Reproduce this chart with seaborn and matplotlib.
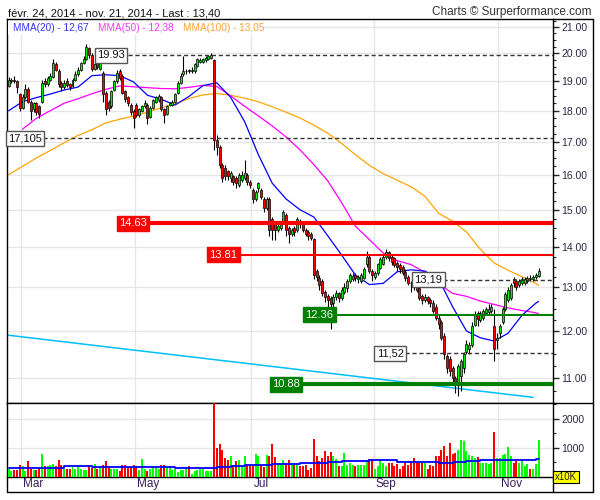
import numpy as np
import pandas as pd
import matplotlib
matplotlib.use("Agg")
import matplotlib.pyplot as plt
import matplotlib.transforms as mtransforms
from matplotlib.lines import Line2D
from matplotlib.patches import Rectangle
from matplotlib.ticker import NullFormatter
import seaborn as sns

# ---------------- data ----------------
start_date = "2014-02-24"
end_date = "2014-11-21"
holidays = ["2014-04-18", "2014-04-21", "2014-05-01"]
month_nums = [3, 5, 7, 9, 11]
month_labels = ["Mar", "May", "Jul", "Sep", "Nov"]

opens = [
    18.85, 19.0, 19.05, 19.0, 18.55, 18.1, 18.45, 18.75, 18.3, 18.05,
    18.25, 18.15, 18.3, 19.0, 18.9, 19.05, 19.15, 19.6, 19.35, 18.95,
    18.8, 19.0, 18.9, 18.85, 19.05, 19.25, 19.4, 19.65, 19.8, 20.2,
    19.95, 19.45, 19.7, 19.45, 19.3, 18.6, 18.3, 18.15, 18.7, 19.0,
    19.35, 19.2, 18.65, 18.45, 18.2, 18.0, 18.2, 17.85, 18.0, 18.15,
    18.2, 17.8, 18.1, 18.3, 18.35, 18.45, 18.05, 17.9, 18.2, 18.2,
    18.3, 18.6, 18.95, 19.25, 19.35, 19.4, 19.35, 19.35, 19.55, 19.7,
    19.7, 19.75, 19.8, 19.85, 19.75, 17.05, 16.85, 16.3, 16.2, 16.1,
    15.9, 15.95, 15.9, 15.7, 15.85, 15.9, 16.0, 15.8, 15.55, 15.3,
    15.6, 15.55, 15.3, 15.05, 15.3, 14.75, 14.6, 14.45, 14.5, 14.65,
    14.85, 14.5, 14.35, 14.5, 14.45, 14.7, 14.6, 14.45, 14.4, 14.35,
    14.22, 13.4, 13.22, 13.15, 12.9, 12.8, 12.75, 12.63, 12.78, 12.86,
    12.74, 12.9, 12.98, 13.15, 13.2, 13.3, 13.2, 13.15, 13.22, 13.58,
    13.75, 13.4, 13.25, 13.35, 13.48, 13.58, 13.75, 13.87, 13.75, 13.72,
    13.6, 13.55, 13.5, 13.38, 13.25, 13.12, 13.12, 13.1, 12.98, 12.8,
    12.7, 12.78, 12.7, 12.63, 12.55, 12.3, 12.2, 11.9, 11.45, 11.4,
    11.2, 11.0, 10.92, 11.05, 11.2, 11.55, 11.6, 11.7, 12.14, 12.4,
    12.25, 12.3, 12.4, 12.42, 12.45, 12.1, 11.8, 11.95, 12.2, 12.5,
    12.7, 12.75, 13.2, 13.15, 13.05, 13.1, 13.1, 13.15, 13.22, 13.2,
    13.25, 13.28]

closes = [
    19.05, 19.05, 19.0, 18.8, 18.1, 18.45, 18.75, 18.3, 18.0, 18.25,
    17.95, 17.9, 18.95, 18.9, 19.1, 19.2, 19.65, 19.4, 18.9, 18.8,
    18.95, 18.88, 18.8, 19.05, 19.25, 19.4, 19.65, 19.8, 20.25, 19.95,
    19.45, 19.6, 19.5, 19.65, 18.55, 18.05, 18.1, 18.65, 19.0, 19.3,
    19.1, 18.6, 18.4, 18.25, 17.95, 17.75, 17.85, 18.05, 18.15, 18.25,
    17.75, 18.1, 18.35, 18.45, 18.5, 18.05, 17.85, 18.15, 18.25, 18.3,
    18.55, 18.95, 19.2, 19.35, 19.35, 19.35, 19.4, 19.6, 19.8, 19.75,
    19.8, 19.85, 19.9, 19.95, 17.05, 16.85, 16.3, 15.9, 15.95, 15.95,
    16.05, 15.8, 15.75, 16.0, 16.0, 16.05, 15.8, 15.7, 15.3, 15.5,
    15.75, 15.35, 15.05, 15.3, 14.45, 14.45, 14.45, 14.55, 14.6, 14.95,
    14.45, 14.35, 14.45, 14.4, 14.75, 14.6, 14.45, 14.35, 14.3, 14.25,
    13.3, 13.25, 13.05, 12.87, 12.78, 12.7, 12.62, 12.78, 12.86, 12.74,
    12.95, 13.0, 13.15, 13.3, 13.28, 13.22, 13.25, 13.3, 13.46, 13.75,
    13.4, 13.3, 13.35, 13.58, 13.7, 13.75, 13.87, 13.72, 13.62, 13.55,
    13.5, 13.45, 13.35, 13.22, 13.12, 13.1, 13.05, 12.95, 12.75, 12.7,
    12.78, 12.68, 12.63, 12.45, 12.3, 12.15, 11.85, 11.5, 11.2, 11.15,
    11.0, 10.9, 11.25, 11.35, 11.5, 11.72, 11.7, 12.12, 12.38, 12.27,
    12.4, 12.45, 12.5, 12.5, 12.55, 11.6, 11.85, 12.1, 12.5, 12.85,
    12.95, 13.05, 13.1, 13.0, 13.15, 13.2, 13.2, 13.22, 13.2, 13.25,
    13.3, 13.40]

highs = [
    19.15, 19.1, 19.2, 19.05, 18.6, 18.55, 18.9, 18.8, 18.35, 18.3,
    18.3, 18.2, 19.05, 19.1, 19.2, 19.3, 19.8, 19.7, 19.45, 19.0,
    19.05, 19.1, 18.95, 19.1, 19.35, 19.5, 19.7, 19.9, 20.35, 20.25,
    20.0, 19.7, 19.75, 19.7, 19.35, 18.65, 18.35, 18.7, 19.05, 19.4,
    19.45, 19.25, 18.7, 18.5, 18.25, 18.05, 18.25, 18.1, 18.2, 18.35,
    18.25, 18.15, 18.4, 18.5, 18.55, 18.5, 18.1, 18.2, 18.3, 18.35,
    18.6, 19.0, 19.3, 19.9, 19.45, 19.45, 19.5, 19.65, 19.85, 19.85,
    19.85, 19.9, 19.95, 20.0, 19.8, 17.2, 16.9, 16.35, 16.3, 16.15,
    16.1, 16.0, 15.95, 16.05, 16.1, 16.45, 16.05, 15.85, 15.6, 15.55,
    15.8, 15.6, 15.35, 15.35, 15.35, 14.8, 14.65, 14.6, 14.65, 15.0,
    14.9, 14.55, 14.5, 14.55, 14.8, 14.75, 14.65, 14.5, 14.45, 14.4,
    14.25, 13.45, 13.3, 13.2, 12.95, 12.85, 12.8, 12.85, 12.95, 12.9,
    13.0, 13.1, 13.2, 13.35, 13.35, 13.35, 13.3, 13.35, 13.5, 13.9,
    13.8, 13.45, 13.4, 13.6, 13.75, 13.8, 13.95, 13.9, 13.8, 13.75,
    13.65, 13.6, 13.55, 13.45, 13.3, 13.15, 13.2, 13.15, 13.0, 12.85,
    12.85, 12.8, 12.75, 12.7, 12.6, 12.35, 12.25, 11.95, 11.5, 11.45,
    11.25, 11.05, 11.3, 11.4, 11.55, 11.8, 11.75, 12.2, 12.45, 12.45,
    12.45, 12.5, 12.55, 12.6, 12.6, 12.5, 11.95, 12.15, 12.55, 12.9,
    13.0, 13.1, 13.25, 13.2, 13.2, 13.25, 13.25, 13.28, 13.3, 13.3,
    13.35, 13.47]

lows = [
    18.8, 18.95, 18.95, 18.6, 18.0, 18.05, 18.4, 18.25, 17.7, 17.95,
    17.85, 17.75, 18.25, 18.8, 18.85, 19.0, 19.1, 19.35, 18.8, 18.65,
    18.75, 18.8, 18.7, 18.8, 19.0, 19.2, 19.35, 19.6, 19.75, 19.85,
    19.35, 19.4, 19.45, 19.4, 18.3, 17.85, 18.0, 18.1, 18.65, 18.95,
    19.05, 18.55, 18.3, 18.15, 17.85, 17.45, 17.8, 17.8, 17.95, 18.1,
    17.55, 17.75, 18.05, 18.25, 18.3, 18.0, 17.6, 17.85, 18.15, 18.15,
    18.25, 18.55, 18.9, 19.2, 19.25, 19.3, 19.3, 19.3, 19.5, 19.65,
    19.65, 19.7, 19.75, 19.8, 16.75, 16.6, 16.2, 15.8, 15.85, 15.85,
    15.8, 15.7, 15.6, 15.65, 15.8, 15.85, 15.7, 15.6, 15.2, 15.25,
    15.5, 15.3, 14.95, 15.0, 14.3, 14.2, 14.2, 14.4, 14.45, 14.6,
    14.3, 14.1, 14.3, 14.3, 14.4, 14.5, 14.4, 14.3, 14.2, 14.2,
    13.2, 13.15, 12.95, 12.8, 12.65, 12.55, 12.05, 12.5, 12.7, 12.65,
    12.7, 12.85, 12.9, 13.1, 13.15, 13.15, 13.1, 13.1, 13.2, 13.5,
    13.35, 13.15, 13.2, 13.3, 13.45, 13.55, 13.7, 13.65, 13.55, 13.5,
    13.4, 13.35, 13.3, 13.15, 13.05, 12.9, 12.95, 12.9, 12.7, 12.6,
    12.65, 12.6, 12.55, 12.4, 12.25, 12.05, 11.8, 11.4, 11.1, 11.05,
    10.9, 10.7, 10.65, 10.75, 11.1, 11.5, 11.5, 11.65, 12.1, 12.1,
    12.2, 12.25, 12.35, 12.35, 12.4, 11.35, 11.6, 11.85, 12.15, 12.45,
    12.65, 12.7, 13.0, 12.95, 13.0, 13.05, 13.05, 13.1, 13.15, 13.15,
    13.2, 13.25]

# volume, in units of 10K shares
volumes = [
    310, 218, 253, 253, 425, 368, 218, 540, 287, 253,
    253, 310, 793, 368, 390, 425, 450, 368, 598, 402,
    287, 287, 287, 333, 287, 333, 287, 253, 240, 425,
    310, 460, 287, 368, 402, 563, 390, 287, 287, 287,
    218, 425, 425, 356, 356, 425, 368, 253, 632, 287,
    218, 287, 356, 333, 287, 402, 402, 333, 368, 253,
    287, 172, 253, 253, 310, 390, 115, 195, 253, 287,
    287, 218, 195, 218, 2550, 1000, 1150, 940, 655, 575,
    713, 425, 540, 575, 425, 735, 425, 368, 368, 793,
    735, 402, 345, 770, 713, 1150, 678, 494, 483, 598,
    483, 586, 402, 425, 448,
    370, 370, 402, 253, 310, 1320, 713, 540, 655, 885,
    713, 860, 713, 632, 370, 370, 830, 402, 483, 425,
    390, 425, 402, 402, 598, 632, 632, 287, 368, 620,
    483, 368, 483, 483, 368, 460, 287, 368, 506, 402,
    483, 655, 483, 483, 483, 483, 287, 402, 368, 735,
    713, 940, 1080, 713, 1170, 793, 830, 940, 1290, 1230,
    885, 770, 713, 655, 678, 483, 483, 483, 460, 483,
    1540, 655, 655, 770, 805, 1020, 735, 483, 540, 483,
    540, 368, 448, 287, 287, 448, 1260]

# moving averages read every 5th session (0,5,...,190) and at the last session
ma20 = [18.0, 18.3, 18.44, 18.56, 18.7, 18.8, 19.2, 19.23, 19.2, 18.98,
        18.52, 18.38, 18.19, 18.48, 18.85, 18.95, 18.45, 17.65, 16.6, 15.75,
        15.3, 15.0, 14.8, 14.3, 13.8, 13.3, 13.07, 13.1, 13.38, 13.43,
        13.4, 13.2, 12.55, 12.0, 11.85, 11.78, 11.95, 12.35, 12.63, 12.67]
ma50 = [None, 17.4, 17.75, 18.0, 18.25, 18.4, 18.57, 18.72, 18.84, 18.81,
        18.78, 18.75, 18.74, 18.79, 18.86, 18.82, 18.5, 18.15, 17.83, 17.5,
        17.15, 16.75, 16.3, 15.82, 15.2, 14.55, 14.2, 13.85, 13.66, 13.56,
        13.37, 13.09, 12.86, 12.79, 12.68, 12.6, 12.52, 12.46, 12.41, 12.38]
ma100 = [16.0, 16.25, 16.5, 16.73, 16.97, 17.2, 17.38, 17.6, 17.72, 17.82,
         17.95, 18.1, 18.23, 18.41, 18.53, 18.58, 18.52, 18.42, 18.3, 18.13,
         17.95, 17.76, 17.53, 17.27, 16.95, 16.6, 16.28, 16.03, 15.84, 15.65,
         15.38, 14.9, 14.69, 14.4, 13.95, 13.6, 13.42, 13.26, 13.1, 13.05]
vol_ma = [310, 310, 310, 310, 370, 370, 333, 333, 333, 333,
          333, 333, 310, 310, 310, 356, 390, 414, 414, 448,
          448, 483, 490, 517, 552, 552, 575, 575, 517, 517,
          517, 483, 517, 552, 586, 586, 586, 586, 610, 610]

# straight support line (start session, end session) and its prices
trend_sessions = [-0.6, 189]
trend_prices = [11.91, 10.62]

level_vals = [19.93, 17.105, 14.63, 13.81, 13.19, 12.36, 11.52, 10.88]
level_texts = ["19.93", "17,105", "14.63", "13.81", "13,19", "12.36", "11,52", "10.88"]

price_ticks = [11, 12, 13, 14, 15, 16, 17, 18, 19, 20, 21]
vol_ticks = [1000, 2000]

title_text = "févr. 24, 2014 - nov. 21, 2014 - Last : 13,40"
credit_text = "Charts © Surperformance.com"
legend_items = [("MMA(20) - 12,67", "#3333ff"),
                ("MMA(50) - 12,38", "#ff33ff"),
                ("MMA(100) - 13,05", "#ffa22e")]

# ---------------- drawing ----------------
sns.set_style("white")
plt.rcParams["font.family"] = ["Liberation Sans", "DejaVu Sans"]

W, H = 600, 500
def fx(px): return px / W
def fy(py): return 1 - py / H

fig = plt.figure(figsize=(6, 5), dpi=100)
fig.patch.set_facecolor("white")
Lp, Rp, Tp, MBp, VBp, BBp, RRp = 7, 553, 19, 403, 477, 492, 593
ax = fig.add_axes([fx(Lp), fy(MBp), (Rp - Lp) / W, (MBp - Tp) / H])
axv = fig.add_axes([fx(Lp), fy(VBp), (Rp - Lp) / W, (VBp - MBp) / H], sharex=ax)

n = len(closes)
idx = np.arange(n)
dates = pd.bdate_range(start_date, end_date).drop(pd.to_datetime(holidays))
month_first = [int(np.where(dates.month == m)[0][0]) for m in month_nums]
grid_x = [m - 0.5 for m in month_first]

GREEN = "#00ee00"
RED = "#ff0000"
o = np.array(opens); c = np.array(closes); h = np.array(highs); l = np.array(lows)
up = c >= o
lo_b = np.minimum(o, c); hi_b = np.maximum(o, c)
cols = np.where(up, GREEN, RED)

ax.set_yscale("log")
ax.set_xlim(-0.61, 196.2)
ax.set_ylim(10.51, 21.31)

# moving averages
ma_x = list(range(0, n, 5)) + [n - 1]
sns.lineplot(x=ma_x, y=ma100, ax=ax, color="#ffa500", lw=0.9, estimator=None, sort=False, zorder=2)
m50x = [x for x, v in zip(ma_x, ma50) if v is not None]
m50y = [v for v in ma50 if v is not None]
sns.lineplot(x=m50x, y=m50y, ax=ax, color="#ff00ff", lw=0.9, estimator=None, sort=False, zorder=2)
sns.lineplot(x=ma_x, y=ma20, ax=ax, color="#0000ff", lw=0.9, estimator=None, sort=False, zorder=2)
sns.lineplot(x=trend_sessions, y=trend_prices, ax=ax, color="#00bfff", lw=1.1,
             estimator=None, sort=False, zorder=2)

# candles
ax.vlines(idx, l, h, color="black", lw=0.8, zorder=3)
ax.bar(idx, np.maximum(hi_b - lo_b, 0.015), bottom=lo_b, width=0.72, color=cols,
       edgecolor="black", linewidth=0.5, zorder=4)

# levels
xmax = 196.2
label_centers = [36.9, 5.9, 44.8, 77.3, 151.2, 111.9, 137.5, 100.0]
line_starts = [43.0, 12.4, 50.6, 83.0, 156.6, 116.9, 142.9, 105.4]
kinds = ["dash", "dash", "red3", "red", "dash", "green", "dash", "green3"]
for val, txt, cx, xs, kd in zip(level_vals, level_texts, label_centers, line_starts, kinds):
    if kd == "dash":
        ax.hlines(val, xs, xmax, colors="#333333", lw=1, linestyles=(0, (3, 2)), zorder=5)
        bb = dict(boxstyle="square,pad=0.22", fc="white", ec="#555555", lw=1)
        tc = "#111111"
    elif kd.startswith("red"):
        ax.hlines(val, xs, xmax, colors="#ff0000", lw=3 if kd == "red3" else 1.5, zorder=5)
        bb = dict(boxstyle="square,pad=0.22", fc="#ff0000", ec="#ff0000", lw=1)
        tc = "white"
    else:
        ax.hlines(val, xs, xmax, colors="#008000", lw=3 if kd == "green3" else 1.5, zorder=5)
        bb = dict(boxstyle="square,pad=0.22", fc="#007f00", ec="#007f00", lw=1)
        tc = "white"
    ax.text(cx, val, txt, ha="center", va="center", fontsize=8, color=tc, bbox=bb, zorder=6)

# axes styling
for a in (ax, axv):
    a.set_facecolor("white")
    for s in a.spines.values():
        s.set_visible(True)
        s.set_color("black")
        s.set_linewidth(1)
    a.set_axisbelow(True)
    a.set_xticks(grid_x)
    a.tick_params(axis="x", length=0, labelbottom=False)
    a.grid(True, which="major", color="#e6e6e6", lw=1)
    a.yaxis.tick_right()

ax.set_yticks(price_ticks)
ax.set_yticklabels([f"{t:.2f}" for t in price_ticks])
minor = [t + f for t in range(10, 22) for f in (0.25, 0.5, 0.75) if 10.51 < t + f < 21.31]
ax.set_yticks(minor, minor=True)
ax.yaxis.set_minor_formatter(NullFormatter())
ax.tick_params(axis="y", which="major", direction="out", length=4, width=1, pad=2,
               labelsize=7.5, labelcolor="#2a2a44", right=True, left=False)
ax.tick_params(axis="y", which="minor", direction="out", length=2.5, width=0.8, right=True, left=False)
ax.set_xlabel(""); ax.set_ylabel("")

# volume panel
vcols = np.where(up, "#00ff00", RED)
axv.bar(idx, volumes, width=0.72, color=vcols, linewidth=0, zorder=3)
sns.lineplot(x=ma_x, y=vol_ma, ax=axv, color="#0000ff", lw=1.3, drawstyle="steps-post",
             estimator=None, sort=False, zorder=4)
axv.set_ylim(0, 2550)
axv.set_yticks(vol_ticks)
axv.set_yticklabels([str(t) for t in vol_ticks])
axv.set_yticks([500, 1500, 2500], minor=True)
axv.yaxis.set_minor_formatter(NullFormatter())
axv.tick_params(axis="y", which="major", direction="out", length=4, width=1, pad=2,
                labelsize=7.5, labelcolor="#2a2a44", right=True, left=False)
axv.tick_params(axis="y", which="minor", direction="out", length=2.5, width=0.8, right=True, left=False)
axv.set_xlabel(""); axv.set_ylabel("")

trans = mtransforms.blended_transform_factory(axv.transData, fig.transFigure)
for g, lab in zip(grid_x, month_labels):
    axv.text(g + 0.8, fy(484), lab, transform=trans, ha="left", va="center",
             fontsize=8.5, color="#3b1f5c", clip_on=False)

# frame lines
def fline(x0, y0, x1, y1):
    fig.add_artist(Line2D([fx(x0), fx(x1)], [fy(y0), fy(y1)], color="black", lw=1,
                          transform=fig.transFigure))
fline(Lp, BBp, RRp, BBp)
fline(RRp, Tp, RRp, BBp)
fline(Rp, Tp, RRp, Tp)
fline(Rp, MBp, RRp, MBp)
fline(Lp, VBp, Lp, BBp)
fline(Rp, VBp, Rp, BBp)

# texts
fig.text(fx(8), fy(13), title_text, ha="left", va="center", fontsize=8, color="#111111")
fig.text(fx(592), fy(12), credit_text, ha="right", va="center", fontsize=8.5, color="#333333")
fig.add_artist(Rectangle((fx(8), fy(35)), fx(262) - fx(8), fy(21) - fy(35),
                         transform=fig.transFigure, facecolor="white", edgecolor="none", zorder=2.5))
starts = [13, 98, 183]
for (txt, colr), xs in zip(legend_items, starts):
    fig.text(fx(xs), fy(28), txt, ha="left", va="center", fontsize=7.2, color=colr, zorder=3)
fig.text(fx(566), fy(477), "x10K", ha="center", va="center", fontsize=7, color="#222222",
         bbox=dict(boxstyle="square,pad=0.15", fc="#ffff00", ec="black", lw=0.8), zorder=5)

fig.savefig("out.png", dpi=100)
